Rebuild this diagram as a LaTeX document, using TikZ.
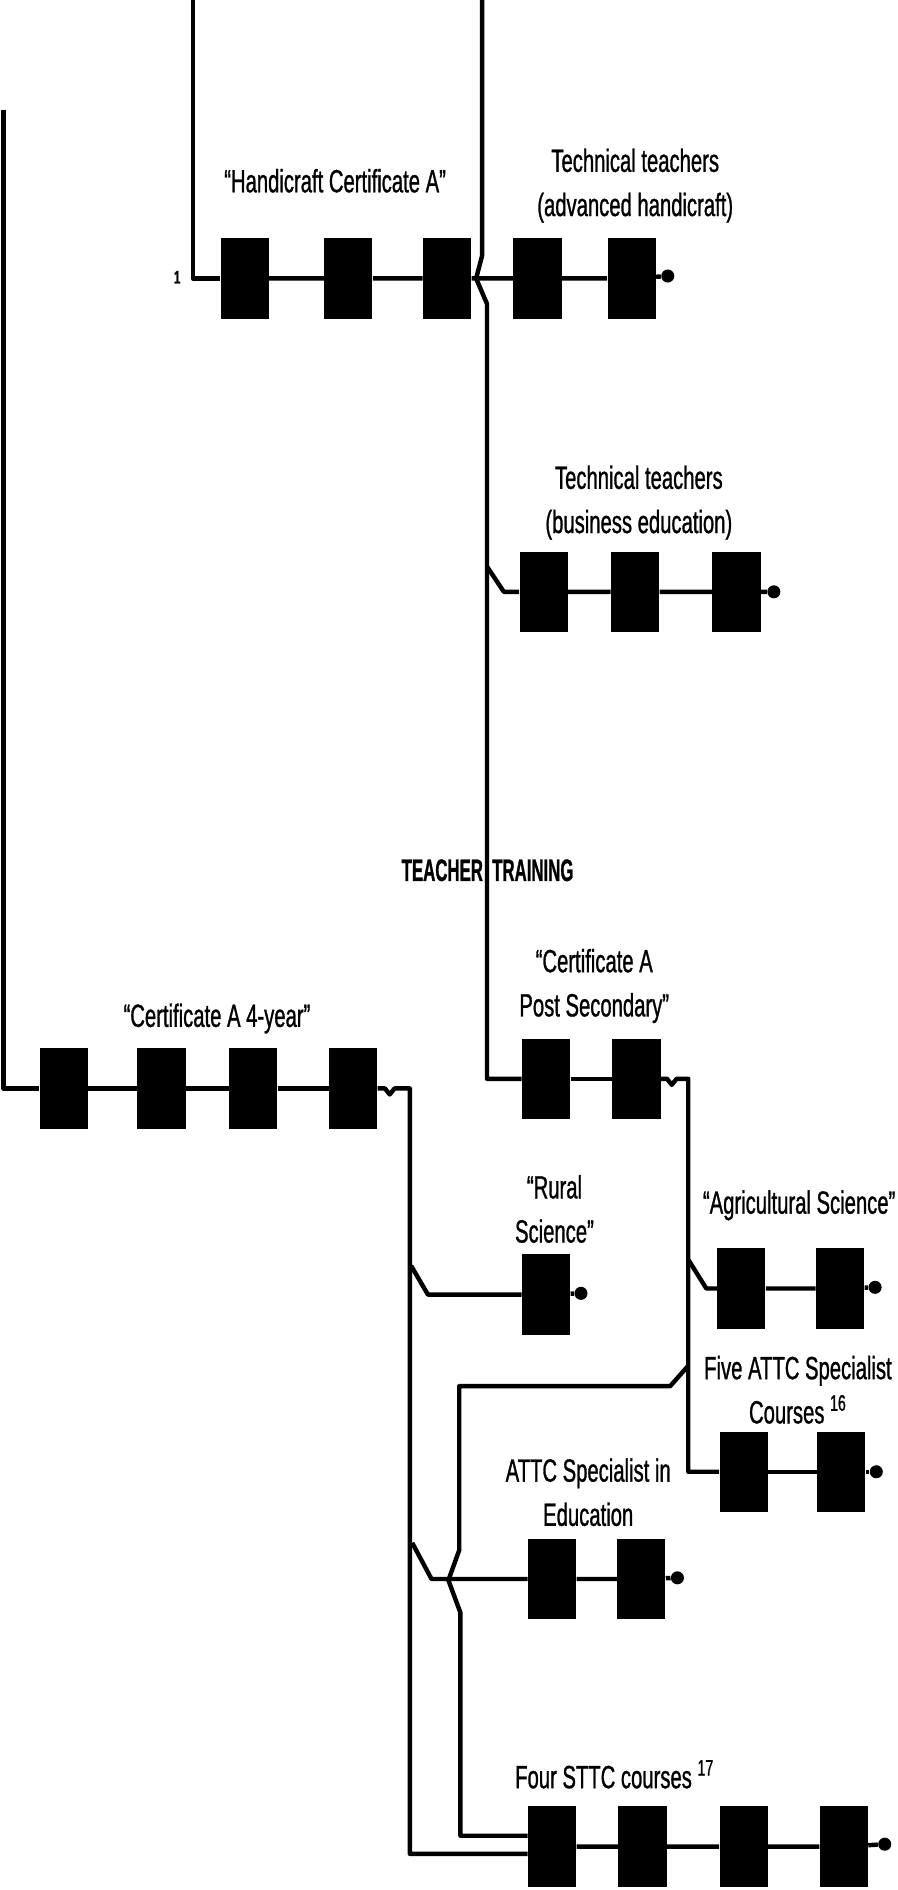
\documentclass[tikz,border=0pt]{standalone}
\usepackage{fontspec}
\setmainfont{Liberation Sans}[FakeStretch=0.63, FakeBold=0.9]
\newfontfamily\headfont{Liberation Sans}[FakeStretch=0.54, FakeBold=0.8]
\usepackage{tikz}
\usetikzlibrary{positioning}
\tikzstyle{course} = [rectangle, fill=black, minimum width=24pt, minimum height=40pt, inner sep=0pt]
\tikzstyle{enddot} = [circle, fill=black, minimum size=6.5pt, inner sep=0pt]
\tikzstyle{note} = [align=center, inner sep=0pt, font=\fontsize{16}{22}\selectfont]
\tikzstyle{head} = [inner sep=0pt, font=\headfont\bfseries\fontsize{15.5}{18}\selectfont]
\tikzstyle{link} = [line width=2.2pt, line join=round]

\begin{document}
\begin{tikzpicture}[x=0.6pt, y=-0.6pt]
    \useasboundingbox (0,0) rectangle (745,1568);

    % feeders coming in from above
    \coordinate (topL) at (160,0);
    \coordinate (topR) at (400,0);
    \coordinate (topF) at (3,91);

    % handicraft row
    \node (hand1) [course] at (203,231) {};
    \node (hand2) [course] at (289,231) {};
    \node (hand3) [course] at (371,231) {};
    \node (hand4) [course] at (446,231) {};
    \node (hand5) [course] at (524,231) {};
    \node (handend) [enddot] at (554,229) {};
    \node (handlbl) [note] at (278,150) {“Handicraft Certificate A”};
    \node (advlbl) [note] at (527,154) {Technical teachers\\(advanced handicraft)};
    \node (fnmark) [font=\bfseries\fontsize{9}{9}\selectfont, inner sep=0pt] at (147,230) {1};

    % business education row
    \node (busi1) [course] at (451,491) {};
    \node (busi2) [course] at (527,491) {};
    \node (busi3) [course] at (611,491) {};
    \node (busiend) [enddot] at (642,491) {};
    \node (busilbl) [note] at (530,417) {Technical teachers\\(business education)};

    \node (ttA) [head, anchor=east] at (401,722) {TEACHER};
    \node (ttB) [head, anchor=west] at (408,722) {TRAINING};

    % post secondary row
    \node (cps1) [course] at (453,895) {};
    \node (cps2) [course] at (528,895) {};
    \node (cpslbl) [note] at (493,818) {“Certificate A\\Post Secondary”};

    \node (agri1) [course] at (615,1069) {};
    \node (agri2) [course] at (697,1069) {};
    \node (agriend) [enddot] at (726,1068) {};
    \node (agrilbl) [note] at (663,1000) {“Agricultural Science”};

    \node (fattc1) [course] at (617,1221) {};
    \node (fattc2) [course] at (698,1221) {};
    \node (fattcend) [enddot] at (727,1221) {};
    \node (fattclbl) [note] at (662,1153) {Five ATTC Specialist\\Courses \textsuperscript{16}};

    % four-year row
    \node (cfour1) [course] at (53,903) {};
    \node (cfour2) [course] at (134,903) {};
    \node (cfour3) [course] at (210,903) {};
    \node (cfour4) [course] at (293,903) {};
    \node (cfourlbl) [note] at (180,845) {“Certificate A 4-year”};

    \node (rural1) [course] at (453,1074) {};
    \node (ruralend) [enddot] at (482,1073) {};
    \node (rurallbl) [note] at (460,1003) {“Rural\\Science”};

    \node (attc1) [course] at (458,1310) {};
    \node (attc2) [course] at (532,1310) {};
    \node (attcend) [enddot] at (562,1309) {};
    \node (attclbl) [note] at (488,1238) {ATTC Specialist in\\Education};

    \node (sttc1) [course] at (458,1532) {};
    \node (sttc2) [course] at (533,1532) {};
    \node (sttc3) [course] at (617,1532) {};
    \node (sttc4) [course] at (700,1532) {};
    \node (sttcend) [enddot] at (734,1530) {};
    \node (sttclbl) [note] at (510,1472) {Four STTC courses \textsuperscript{17}};

    % junctions on the trunk lines
    \coordinate (busj) at (404,470);
    \coordinate (agrj) at (571,1045);
    \coordinate (attcj) at (571,1133);
    \coordinate (rurj) at (341,1050);
    \coordinate (edj) at (342,1280);

    \draw [link] (topL) |- (hand1);
    \draw [link] (hand1) -- (hand2) -- (hand3) -- (hand4) -- (hand5) -- (handend);
    \draw [link] (topR) -- (400,212) -- (395,231) -- (404,252) |- (cps1);
    \draw [link] (busj) -- (418,491) -- (busi1) -- (busi2) -- (busi3) -- (busiend);
    \draw [link] (cps1) -- (cps2);
    \draw [link] (cps2.east) -- ++(5,0) -- ++(4,5) -- ++(4,-5) -- (571,895) |- (fattc1);
    \draw [link] (fattc1) -- (fattc2) -- (fattcend);
    \draw [link] (agrj) -- (586,1069) -- (agri1) -- (agri2) -- (agriend);
    \draw [link] (attcj) -- (556,1150) -- (381,1150) -- (381,1286) -- (372,1311)
        -- (382,1338) |- ([yshift=5.4pt]sttc1.west);
    \draw [link] (topF) |- (cfour1);
    \draw [link] (cfour1) -- (cfour2) -- (cfour3) -- (cfour4);
    \draw [link] (cfour4.east) -- ++(6,0) -- ++(4,5) -- ++(4,-5) -- (340,903)
        |- ([yshift=-3.6pt]sttc1.west);
    \draw [link] (rurj) -- (355,1074) -- (rural1) -- (ruralend);
    \draw [link] (edj) -- (358,1310) -- (attc1) -- (attc2) -- (attcend);
    \draw [link] (sttc1) -- (sttc2) -- (sttc3) -- (sttc4) -- (sttcend);
\end{tikzpicture}
\end{document}
